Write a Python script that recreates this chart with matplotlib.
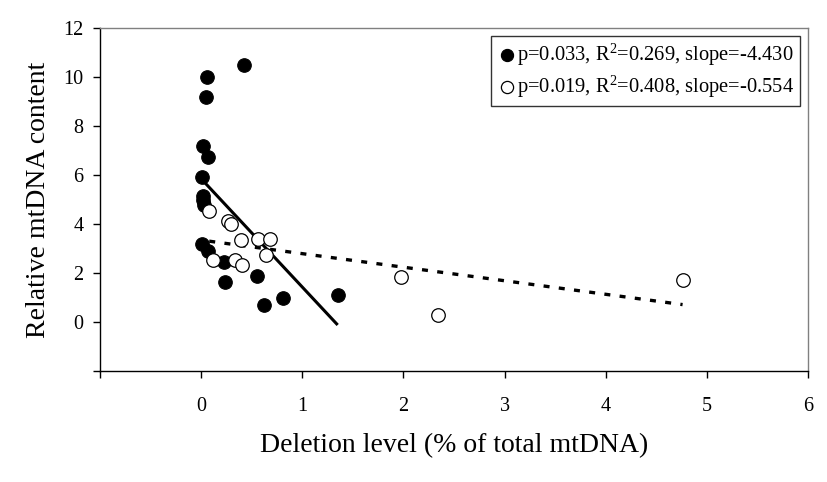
import matplotlib
matplotlib.use("Agg")
import matplotlib.pyplot as plt
import numpy as np

plt.rcParams['font.family'] = ['Liberation Serif', 'DejaVu Serif']
plt.rcParams['mathtext.fontset'] = 'custom'
plt.rcParams['mathtext.rm'] = 'Liberation Serif'
plt.rcParams['mathtext.it'] = 'Liberation Serif:italic'

# Filled series (deletion level %, relative mtDNA content)
filled_x = [0.06, 0.05, 0.42, 0.02, 0.07, 0.01, 0.02, 0.02, 0.03, 0.01, 0.07,
            0.23, 0.24, 0.55, 0.62, 0.81, 1.35]
filled_y = [10.0, 9.18, 10.5, 7.17, 6.72, 5.90, 5.16, 4.96, 4.78, 3.18, 2.88,
            2.43, 1.63, 1.89, 0.70, 0.97, 1.08]
# Open series
open_x = [0.08, 0.27, 0.30, 0.39, 0.56, 0.68, 0.64, 0.12, 0.33, 0.40, 1.98, 2.34, 4.76]
open_y = [4.55, 4.11, 3.98, 3.33, 3.40, 3.40, 2.75, 2.54, 2.54, 2.34, 1.83, 0.29, 1.72]

# Linear fits (intercept, slope)
filled_fit = (5.85, -4.430)
open_fit = (3.34, -0.554)

labels = [r'p=0.033, R$^2$=0.269, slope=-4.430',
          r'p=0.019, R$^2$=0.408, slope=-0.554']

xticks = [0, 1, 2, 3, 4, 5, 6]
yticks = [0, 2, 4, 6, 8, 10, 12]

fig = plt.figure(figsize=(8.28, 4.82), dpi=100)
ax = fig.add_axes([100/828, 1-370.7/482, (808-100)/828, (370.7-28.3)/482])

# trend lines
fx = np.array([min(filled_x), max(filled_x)])
ax.plot(fx, filled_fit[0] + filled_fit[1]*fx, color='black', lw=2.2,
        solid_capstyle='butt', zorder=3)
ox = np.array([min(open_x), max(open_x)])
ax.plot(ox, open_fit[0] + open_fit[1]*ox, color='black', lw=2.4,
        dashes=(1.8, 2.8), zorder=3)

ax.scatter(filled_x, filled_y, s=95, c='black', edgecolors='black', linewidths=0.8,
           zorder=4, label=labels[0])
ax.scatter(open_x, open_y, s=95, c='white', edgecolors='black', linewidths=0.9,
           zorder=5, label=labels[1])

ax.set_xlim(-1, 6)
ax.set_ylim(-2, 12)
ax.set_xticks([-1] + xticks)
ax.set_xticklabels([''] + [str(t) for t in xticks])
ax.set_yticks([-2] + yticks)
ax.set_yticklabels([''] + [str(t) for t in yticks])

for s in ['top', 'right']:
    ax.spines[s].set_color('#808080')
    ax.spines[s].set_linewidth(1.0)
for s in ['left', 'bottom']:
    ax.spines[s].set_color('black')
    ax.spines[s].set_linewidth(1.0)

ax.tick_params(axis='y', direction='out', length=5, width=1.0, pad=7, labelsize=14.5)
ax.tick_params(axis='x', direction='out', length=5, width=1.0, pad=14, labelsize=14.5)

ax.set_xlabel('Deletion level (% of total mtDNA)', fontsize=20, labelpad=12)
ax.set_ylabel('Relative mtDNA content', fontsize=20, labelpad=9)

leg = ax.legend(loc='upper right', bbox_to_anchor=(800/828, 1-35.7/482),
                bbox_transform=fig.transFigure, borderaxespad=0, fontsize=14.8,
                frameon=True, fancybox=False, handletextpad=0.0, handlelength=1.0,
                borderpad=0.28, labelspacing=0.3, markerscale=0.9, scatterpoints=1)
leg.get_frame().set_edgecolor('black')
leg.get_frame().set_linewidth(1.0)

fig.savefig('out.png', dpi=100)
